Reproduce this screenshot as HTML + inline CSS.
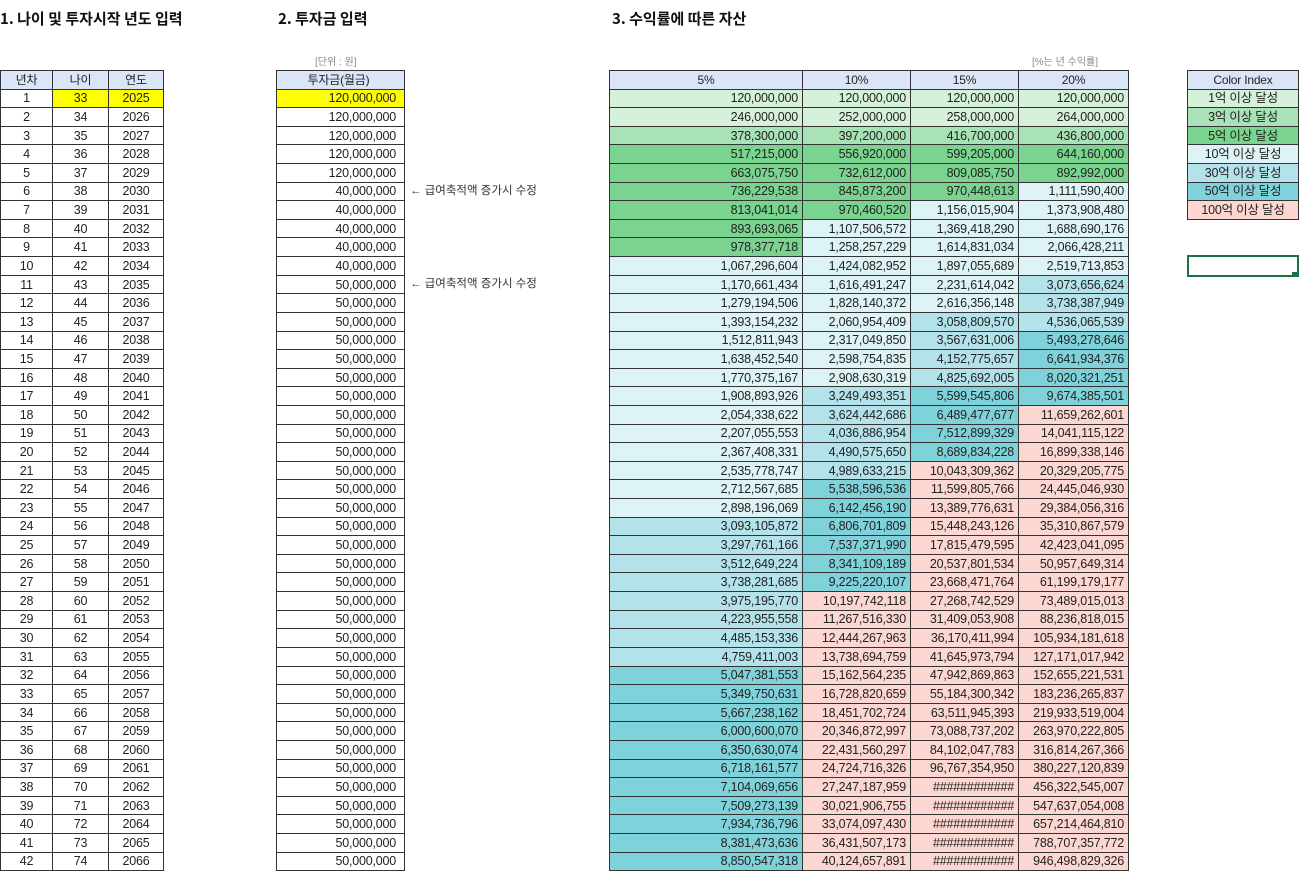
<!DOCTYPE html>
<html><head><meta charset="utf-8">
<style>
body{margin:0;width:1313px;height:889px;background:#fff;position:relative;overflow:hidden;font-family:"Liberation Sans","Noto Sans CJK KR",sans-serif;font-size:12.5px;color:#222}
.t{position:absolute;font-weight:bold;font-size:15px;top:8px;color:#111;font-family:"Noto Sans CJK KR","Liberation Sans",sans-serif}
table{position:absolute;border-collapse:collapse;table-layout:fixed}
td{border:1px solid #333;height:17.62px;padding:0 4px;text-align:right;white-space:nowrap;overflow:hidden;line-height:16px;letter-spacing:-0.2px}
tr.h td{background:#dae6f8;text-align:center;font-size:12px}
.cn td{text-align:center}
.inv td{padding-right:8px}
.y{background:#ffff00}
.a{background:#d6f1da}.b{background:#a9e2b6}.c{background:#7ad38e}.d{background:#def3f5}.e{background:#b3e2ea}.f{background:#80d2da}.p{background:#fcd6d0}
.hh{text-align:center!important}
.n{position:absolute;font-size:11.5px;color:#333;font-family:"Liberation Sans","Noto Sans CJK KR",sans-serif}
.s{position:absolute;font-size:10px;color:#888;font-family:"Liberation Sans","Noto Sans CJK KR",sans-serif}
</style></head><body>
<div class="t" style="left:0">1. 나이 및 투자시작 년도 입력</div>
<div class="t" style="left:278px">2. 투자금 입력</div>
<div class="t" style="left:612px">3. 수익률에 따른 자산</div>
<div class="s" style="left:315px;top:53px">[단위 : 원]</div>
<div class="s" style="left:1032px;top:53px">[%는 년 수익률]</div>
<div class="n" style="left:410px;top:182px">← 급여축적액 증가시 수정</div>
<div class="n" style="left:410px;top:275px">← 급여축적액 증가시 수정</div>
<div style="position:absolute;left:1187px;top:255px;width:108px;height:18px;border:2px solid #1e7145"></div>
<div style="position:absolute;left:1292px;top:272px;width:5px;height:5px;background:#1e7145"></div>

<table class="cn" style="left:0;top:70px;width:163px">
<colgroup><col style="width:52px"><col style="width:56px"><col style="width:55px"></colgroup>
<tr class="h"><td>년차</td><td>나이</td><td>연도</td></tr>
<tr><td>1</td><td class="y">33</td><td class="y">2025</td></tr>
<tr><td>2</td><td>34</td><td>2026</td></tr>
<tr><td>3</td><td>35</td><td>2027</td></tr>
<tr><td>4</td><td>36</td><td>2028</td></tr>
<tr><td>5</td><td>37</td><td>2029</td></tr>
<tr><td>6</td><td>38</td><td>2030</td></tr>
<tr><td>7</td><td>39</td><td>2031</td></tr>
<tr><td>8</td><td>40</td><td>2032</td></tr>
<tr><td>9</td><td>41</td><td>2033</td></tr>
<tr><td>10</td><td>42</td><td>2034</td></tr>
<tr><td>11</td><td>43</td><td>2035</td></tr>
<tr><td>12</td><td>44</td><td>2036</td></tr>
<tr><td>13</td><td>45</td><td>2037</td></tr>
<tr><td>14</td><td>46</td><td>2038</td></tr>
<tr><td>15</td><td>47</td><td>2039</td></tr>
<tr><td>16</td><td>48</td><td>2040</td></tr>
<tr><td>17</td><td>49</td><td>2041</td></tr>
<tr><td>18</td><td>50</td><td>2042</td></tr>
<tr><td>19</td><td>51</td><td>2043</td></tr>
<tr><td>20</td><td>52</td><td>2044</td></tr>
<tr><td>21</td><td>53</td><td>2045</td></tr>
<tr><td>22</td><td>54</td><td>2046</td></tr>
<tr><td>23</td><td>55</td><td>2047</td></tr>
<tr><td>24</td><td>56</td><td>2048</td></tr>
<tr><td>25</td><td>57</td><td>2049</td></tr>
<tr><td>26</td><td>58</td><td>2050</td></tr>
<tr><td>27</td><td>59</td><td>2051</td></tr>
<tr><td>28</td><td>60</td><td>2052</td></tr>
<tr><td>29</td><td>61</td><td>2053</td></tr>
<tr><td>30</td><td>62</td><td>2054</td></tr>
<tr><td>31</td><td>63</td><td>2055</td></tr>
<tr><td>32</td><td>64</td><td>2056</td></tr>
<tr><td>33</td><td>65</td><td>2057</td></tr>
<tr><td>34</td><td>66</td><td>2058</td></tr>
<tr><td>35</td><td>67</td><td>2059</td></tr>
<tr><td>36</td><td>68</td><td>2060</td></tr>
<tr><td>37</td><td>69</td><td>2061</td></tr>
<tr><td>38</td><td>70</td><td>2062</td></tr>
<tr><td>39</td><td>71</td><td>2063</td></tr>
<tr><td>40</td><td>72</td><td>2064</td></tr>
<tr><td>41</td><td>73</td><td>2065</td></tr>
<tr><td>42</td><td>74</td><td>2066</td></tr>
</table>

<table class="inv" style="left:276px;top:70px;width:129px">
<tr class="h"><td>투자금(월금)</td></tr>
<tr><td class="y">120,000,000</td></tr>
<tr><td>120,000,000</td></tr><tr><td>120,000,000</td></tr><tr><td>120,000,000</td></tr><tr><td>120,000,000</td></tr>
<tr><td>40,000,000</td></tr><tr><td>40,000,000</td></tr><tr><td>40,000,000</td></tr><tr><td>40,000,000</td></tr><tr><td>40,000,000</td></tr>
<tr><td>50,000,000</td></tr><tr><td>50,000,000</td></tr><tr><td>50,000,000</td></tr><tr><td>50,000,000</td></tr><tr><td>50,000,000</td></tr>
<tr><td>50,000,000</td></tr><tr><td>50,000,000</td></tr><tr><td>50,000,000</td></tr><tr><td>50,000,000</td></tr><tr><td>50,000,000</td></tr>
<tr><td>50,000,000</td></tr><tr><td>50,000,000</td></tr><tr><td>50,000,000</td></tr><tr><td>50,000,000</td></tr><tr><td>50,000,000</td></tr>
<tr><td>50,000,000</td></tr><tr><td>50,000,000</td></tr><tr><td>50,000,000</td></tr><tr><td>50,000,000</td></tr><tr><td>50,000,000</td></tr>
<tr><td>50,000,000</td></tr><tr><td>50,000,000</td></tr><tr><td>50,000,000</td></tr><tr><td>50,000,000</td></tr><tr><td>50,000,000</td></tr>
<tr><td>50,000,000</td></tr><tr><td>50,000,000</td></tr><tr><td>50,000,000</td></tr><tr><td>50,000,000</td></tr><tr><td>50,000,000</td></tr>
<tr><td>50,000,000</td></tr><tr><td>50,000,000</td></tr>
</table>

<table style="left:609px;top:70px;width:519px">
<colgroup><col style="width:193px"><col style="width:108px"><col style="width:108px"><col style="width:110px"></colgroup>
<tr class="h"><td>5%</td><td>10%</td><td>15%</td><td>20%</td></tr>
<tr><td class="a">120,000,000</td><td class="a">120,000,000</td><td class="a">120,000,000</td><td class="a">120,000,000</td></tr>
<tr><td class="a">246,000,000</td><td class="a">252,000,000</td><td class="a">258,000,000</td><td class="a">264,000,000</td></tr>
<tr><td class="b">378,300,000</td><td class="b">397,200,000</td><td class="b">416,700,000</td><td class="b">436,800,000</td></tr>
<tr><td class="c">517,215,000</td><td class="c">556,920,000</td><td class="c">599,205,000</td><td class="c">644,160,000</td></tr>
<tr><td class="c">663,075,750</td><td class="c">732,612,000</td><td class="c">809,085,750</td><td class="c">892,992,000</td></tr>
<tr><td class="c">736,229,538</td><td class="c">845,873,200</td><td class="c">970,448,613</td><td class="d">1,111,590,400</td></tr>
<tr><td class="c">813,041,014</td><td class="c">970,460,520</td><td class="d">1,156,015,904</td><td class="d">1,373,908,480</td></tr>
<tr><td class="c">893,693,065</td><td class="d">1,107,506,572</td><td class="d">1,369,418,290</td><td class="d">1,688,690,176</td></tr>
<tr><td class="c">978,377,718</td><td class="d">1,258,257,229</td><td class="d">1,614,831,034</td><td class="d">2,066,428,211</td></tr>
<tr><td class="d">1,067,296,604</td><td class="d">1,424,082,952</td><td class="d">1,897,055,689</td><td class="d">2,519,713,853</td></tr>
<tr><td class="d">1,170,661,434</td><td class="d">1,616,491,247</td><td class="d">2,231,614,042</td><td class="e">3,073,656,624</td></tr>
<tr><td class="d">1,279,194,506</td><td class="d">1,828,140,372</td><td class="d">2,616,356,148</td><td class="e">3,738,387,949</td></tr>
<tr><td class="d">1,393,154,232</td><td class="d">2,060,954,409</td><td class="e">3,058,809,570</td><td class="e">4,536,065,539</td></tr>
<tr><td class="d">1,512,811,943</td><td class="d">2,317,049,850</td><td class="e">3,567,631,006</td><td class="f">5,493,278,646</td></tr>
<tr><td class="d">1,638,452,540</td><td class="d">2,598,754,835</td><td class="e">4,152,775,657</td><td class="f">6,641,934,376</td></tr>
<tr><td class="d">1,770,375,167</td><td class="d">2,908,630,319</td><td class="e">4,825,692,005</td><td class="f">8,020,321,251</td></tr>
<tr><td class="d">1,908,893,926</td><td class="e">3,249,493,351</td><td class="f">5,599,545,806</td><td class="f">9,674,385,501</td></tr>
<tr><td class="d">2,054,338,622</td><td class="e">3,624,442,686</td><td class="f">6,489,477,677</td><td class="p">11,659,262,601</td></tr>
<tr><td class="d">2,207,055,553</td><td class="e">4,036,886,954</td><td class="f">7,512,899,329</td><td class="p">14,041,115,122</td></tr>
<tr><td class="d">2,367,408,331</td><td class="e">4,490,575,650</td><td class="f">8,689,834,228</td><td class="p">16,899,338,146</td></tr>
<tr><td class="d">2,535,778,747</td><td class="e">4,989,633,215</td><td class="p">10,043,309,362</td><td class="p">20,329,205,775</td></tr>
<tr><td class="d">2,712,567,685</td><td class="f">5,538,596,536</td><td class="p">11,599,805,766</td><td class="p">24,445,046,930</td></tr>
<tr><td class="d">2,898,196,069</td><td class="f">6,142,456,190</td><td class="p">13,389,776,631</td><td class="p">29,384,056,316</td></tr>
<tr><td class="e">3,093,105,872</td><td class="f">6,806,701,809</td><td class="p">15,448,243,126</td><td class="p">35,310,867,579</td></tr>
<tr><td class="e">3,297,761,166</td><td class="f">7,537,371,990</td><td class="p">17,815,479,595</td><td class="p">42,423,041,095</td></tr>
<tr><td class="e">3,512,649,224</td><td class="f">8,341,109,189</td><td class="p">20,537,801,534</td><td class="p">50,957,649,314</td></tr>
<tr><td class="e">3,738,281,685</td><td class="f">9,225,220,107</td><td class="p">23,668,471,764</td><td class="p">61,199,179,177</td></tr>
<tr><td class="e">3,975,195,770</td><td class="p">10,197,742,118</td><td class="p">27,268,742,529</td><td class="p">73,489,015,013</td></tr>
<tr><td class="e">4,223,955,558</td><td class="p">11,267,516,330</td><td class="p">31,409,053,908</td><td class="p">88,236,818,015</td></tr>
<tr><td class="e">4,485,153,336</td><td class="p">12,444,267,963</td><td class="p">36,170,411,994</td><td class="p">105,934,181,618</td></tr>
<tr><td class="e">4,759,411,003</td><td class="p">13,738,694,759</td><td class="p">41,645,973,794</td><td class="p">127,171,017,942</td></tr>
<tr><td class="f">5,047,381,553</td><td class="p">15,162,564,235</td><td class="p">47,942,869,863</td><td class="p">152,655,221,531</td></tr>
<tr><td class="f">5,349,750,631</td><td class="p">16,728,820,659</td><td class="p">55,184,300,342</td><td class="p">183,236,265,837</td></tr>
<tr><td class="f">5,667,238,162</td><td class="p">18,451,702,724</td><td class="p">63,511,945,393</td><td class="p">219,933,519,004</td></tr>
<tr><td class="f">6,000,600,070</td><td class="p">20,346,872,997</td><td class="p">73,088,737,202</td><td class="p">263,970,222,805</td></tr>
<tr><td class="f">6,350,630,074</td><td class="p">22,431,560,297</td><td class="p">84,102,047,783</td><td class="p">316,814,267,366</td></tr>
<tr><td class="f">6,718,161,577</td><td class="p">24,724,716,326</td><td class="p">96,767,354,950</td><td class="p">380,227,120,839</td></tr>
<tr><td class="f">7,104,069,656</td><td class="p">27,247,187,959</td><td class="p">############</td><td class="p">456,322,545,007</td></tr>
<tr><td class="f">7,509,273,139</td><td class="p">30,021,906,755</td><td class="p">############</td><td class="p">547,637,054,008</td></tr>
<tr><td class="f">7,934,736,796</td><td class="p">33,074,097,430</td><td class="p">############</td><td class="p">657,214,464,810</td></tr>
<tr><td class="f">8,381,473,636</td><td class="p">36,431,507,173</td><td class="p">############</td><td class="p">788,707,357,772</td></tr>
<tr><td class="f">8,850,547,318</td><td class="p">40,124,657,891</td><td class="p">############</td><td class="p">946,498,829,326</td></tr>
</table>

<table class="cn" style="left:1187px;top:70px;width:112px">
<tr class="h"><td>Color Index</td></tr>
<tr><td class="a">1억 이상 달성</td></tr>
<tr><td class="b">3억 이상 달성</td></tr>
<tr><td class="c">5억 이상 달성</td></tr>
<tr><td class="d">10억 이상 달성</td></tr>
<tr><td class="e">30억 이상 달성</td></tr>
<tr><td class="f">50억 이상 달성</td></tr>
<tr><td class="p">100억 이상 달성</td></tr>
</table>
</body></html>
